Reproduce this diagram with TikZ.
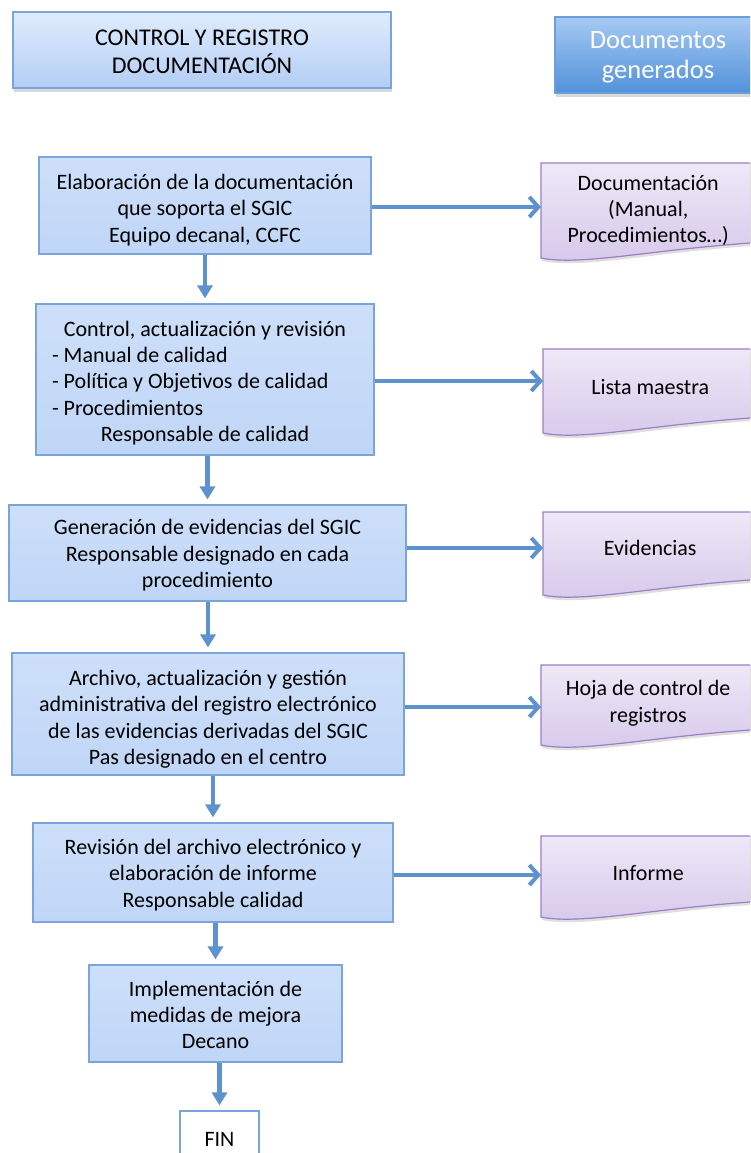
\documentclass[tikz,border=0pt]{standalone}
\usepackage{fontspec}
\setmainfont{Carlito}
\usetikzlibrary{arrows.meta,shadows,backgrounds}
\definecolor{boxtop}{HTML}{CDDFF9}
\definecolor{boxbot}{HTML}{C0D6F7}
\definecolor{boxline}{HTML}{7AA5DA}
\definecolor{hdrtop}{HTML}{E0ECFD}
\definecolor{hdrbot}{HTML}{B3CDF4}
\definecolor{hdrbtop}{HTML}{A6C9F2}
\definecolor{hdrbbot}{HTML}{5292DA}
\definecolor{hdrbline}{HTML}{6C9EDA}
\definecolor{doctop}{HTML}{EEE8F7}
\definecolor{docbot}{HTML}{D6C8EB}
\definecolor{docline}{HTML}{9B80C4}
\definecolor{arrowc}{HTML}{5E92CE}
\newcommand\tst[1]{\rule{0pt}{#1}}
\newcommand\bst[1]{\rule[-#1]{0pt}{0pt}}
\newcommand\docshape[3]{%
  \fill[top color=doctop,bottom color=docbot,drop shadow={opacity=0.25,shadow xshift=1pt,shadow yshift=-3pt}]
    (#1,#2) -- (770,#2) -- (770,#3-15) -- (750,#3-15)
    .. controls (650,#3-8) and (580,#3+8) .. (#1,#3) -- cycle;
  \draw[docline,line width=1.2pt]
    (770,#2) -- (#1,#2) -- (#1,#3)
    .. controls (580,#3+8) and (650,#3-8) .. (750,#3-15) -- (770,#3-15);
}
\begin{document}
\begin{tikzpicture}[x=1pt,y=-1pt,
  txt/.style={font=\fontsize{22}{26.3}\selectfont},
  procbox/.style={draw=boxline,line width=1.2pt,top color=boxtop,bottom color=boxbot,
    inner sep=0pt,align=center,txt},
  hdrbox/.style={draw=boxline,line width=1.2pt,top color=hdrtop,bottom color=hdrbot,
    inner sep=0pt,align=center,font=\fontsize{24}{28}\selectfont,
    drop shadow={opacity=0.3,shadow xshift=1pt,shadow yshift=-4pt}},
  hdrboxb/.style={draw=hdrbline,line width=1.2pt,top color=hdrbtop,bottom color=hdrbbot,
    inner sep=0pt,align=center,text=white,font=\fontsize{26.5}{30}\selectfont,
    drop shadow={opacity=0.3,shadow xshift=1pt,shadow yshift=-4pt}},
  doctext/.style={inner sep=0pt,align=center,txt,anchor=west,minimum width=214pt},
  finbox/.style={draw=boxline,line width=1.2pt,fill=white,inner sep=0pt,txt},
  varrow/.style={draw=arrowc,line width=4.5pt,-{Triangle[length=13pt,width=15pt]},shorten >=5pt},
  harrow/.style={draw=arrowc,line width=4.5pt,-{Straight Barb[length=9pt,width=20pt,line width=4pt]}}
]
\useasboundingbox (0,0) rectangle (750,1153);
\clip (0,0) rectangle (750,1153);
\fill[white] (0,0) rectangle (750,1153);

% headers
\node[hdrbox,minimum width=378pt,minimum height=76pt] (h1) at (202,50)
  {\tst{19.5pt}CONTROL Y REGISTRO\\DOCUMENTACIÓN};
\node[hdrboxb,minimum width=206pt,minimum height=76pt] (h2) at (658,55)
  {\tst{22.5pt}Documentos\\generados};

% process boxes
\node[procbox,minimum width=332pt,minimum height=97pt] (b1) at (205,205.5)
  {\tst{24pt}Elaboración de la documentación\\que soporta el SGIC\\Equipo decanal, CCFC};
\node[procbox,minimum width=338pt,minimum height=151pt] (b2) at (205,379.5)
  {\tst{22pt}Control, actualización y revisión\\
   \makebox[306pt][l]{- Manual de calidad}\\
   \makebox[306pt][l]{- Política y Objetivos de calidad}\\
   \makebox[306pt][l]{- Procedimientos}\\
   Responsable de calidad};
\node[procbox,minimum width=397pt,minimum height=96pt] (b3) at (207.5,553)
  {\tst{20pt}Generación de evidencias del SGIC\\Responsable designado en cada\\procedimiento};
\node[procbox,minimum width=392pt,minimum height=122pt] (b4) at (208,714)
  {\tst{26pt}Archivo, actualización y gestión\\administrativa del registro electrónico\\de las evidencias derivadas del SGIC\\Pas designado en el centro};
\node[procbox,minimum width=360pt,minimum height=99pt] (b5) at (213,872.5)
  {\tst{20pt}Revisión del archivo electrónico y\\elaboración de informe\\Responsable calidad};
\node[procbox,minimum width=253pt,minimum height=97pt] (b6) at (215.5,1013.5)
  {\tst{18pt}Implementación de\\medidas de mejora\\Decano};
\node[finbox,minimum width=79pt,minimum height=56pt] (fin) at (219.5,1139) {FIN};

% documents
\docshape{541}{163}{258}
\node[doctext] (d1) at (541,207) {\tst{22pt}Documentación\\(Manual,\\Procedimientos…)};
\docshape{543}{349}{433}
\node[doctext] (d2) at (543,381) {\tst{28pt}Lista maestra};
\docshape{543}{512}{595}
\node[doctext] (d3) at (543,548) {Evidencias};
\docshape{541}{665}{745}
\node[doctext] (d4) at (541,707) {Hoja de control de\\registros\bst{11.5pt}};
\docshape{541}{836}{917}
\node[doctext] (d5) at (541,875) {Informe\bst{4pt}};

% vertical arrows
\draw[varrow] (b1.south -| b2.north) -- (b2.north);
\draw[varrow] (b2.south -| b3.north) -- (b3.north);
\draw[varrow] (b3.south -| b4.north) -- (b4.north);
\draw[varrow] (b4.south -| b5.north) -- (b5.north);
\draw[varrow] (b5.south -| b6.north) -- (b6.north);
\draw[varrow] (b6.south -| fin.north) -- (fin.north);

% horizontal arrows
\draw[harrow] (b1.east |- d1.west) -- (d1.west);
\draw[harrow] (b2.east |- d2.west) -- (d2.west);
\draw[harrow] (b3.east |- d3.west) -- (d3.west);
\draw[harrow] (b4.east |- d4.west) -- (d4.west);
\draw[harrow] (b5.east |- d5.west) -- (d5.west);
\end{tikzpicture}
\end{document}
